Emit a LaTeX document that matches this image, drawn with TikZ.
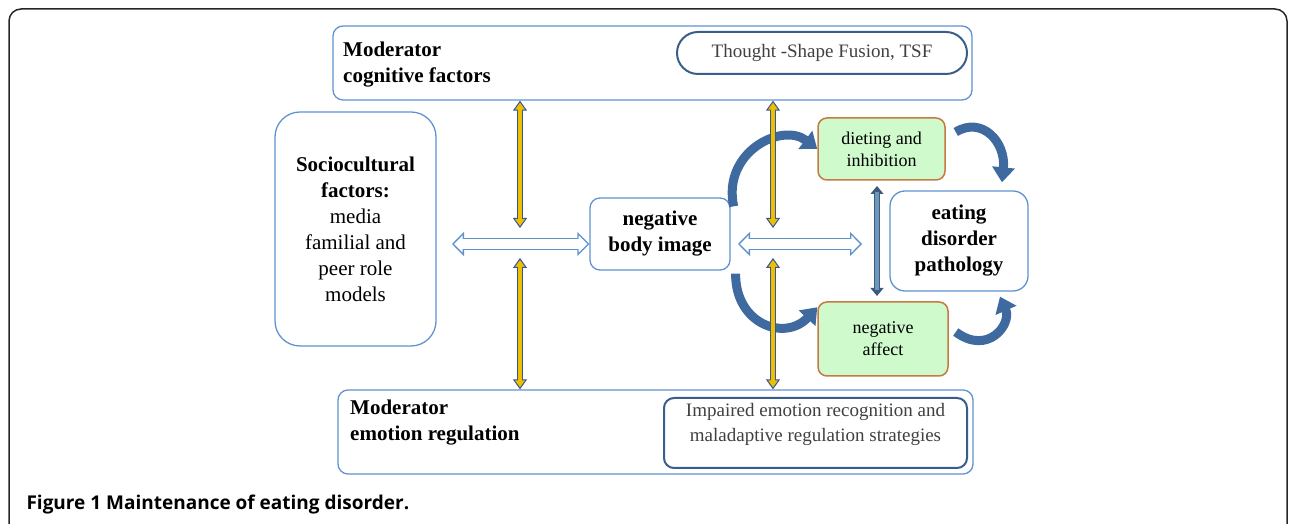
\documentclass[tikz,border=0pt]{standalone}
\usepackage{fontspec}
\setmainfont{Liberation Serif}
\newfontfamily\capfont{Open Sans}
\usetikzlibrary{arrows.meta}
\definecolor{boxblue}{RGB}{96,146,208}
\definecolor{inblue}{RGB}{58,94,140}
\definecolor{paleg}{RGB}{206,250,204}
\definecolor{orangeb}{RGB}{196,122,66}
\definecolor{gold}{RGB}{240,190,0}
\definecolor{arrowblue}{RGB}{50,88,150}
\definecolor{curveblue}{RGB}{62,106,160}
\definecolor{steel}{RGB}{110,152,184}
\definecolor{steeldark}{RGB}{58,90,126}
\definecolor{txtgray}{RGB}{64,64,64}
\tikzset{
  ytip/.tip={Triangle[length=10pt,width=14pt,line width=1pt,fill=gold]},
  htip/.tip={Triangle[length=12pt,width=24pt,line width=1.3pt,fill=white]},
  stip/.tip={Triangle[length=8pt,width=13pt,line width=1pt,fill=steeldark]},
  ctip/.tip={Triangle[length=15pt,width=22pt]}
}
\begin{document}
\begin{tikzpicture}[x=1pt,y=1pt,
  box/.style={draw=boxblue, line width=1.3pt, rounded corners=10pt, inner sep=0pt, align=center},
  inbox/.style={draw=inblue, line width=2pt, inner sep=0pt, align=center, text=txtgray},
  greenbox/.style={draw=orangeb, fill=paleg, line width=1.5pt, rounded corners=9pt, inner sep=0pt, align=center},
  big/.style={font=\fontsize{21}{26}\selectfont},
  small/.style={font=\fontsize{18}{22}\selectfont},
  ylw/.style={draw=arrowblue, line width=6pt, arrows={ytip-ytip},
    postaction={draw=gold, line width=3.2pt, arrows=-, shorten <=8pt, shorten >=8pt}},
  hollow/.style={draw=boxblue, line width=12pt, arrows={htip-htip},
    postaction={draw=white, line width=9.4pt, arrows=-, shorten <=10pt, shorten >=10pt}},
  stl/.style={draw=steeldark, line width=6pt, arrows={stip-stip},
    postaction={draw=steel, line width=3.8pt, arrows=-, shorten <=6pt, shorten >=6pt}},
  curve/.style={draw=curveblue, line width=9pt, arrows={-ctip}}
]
\useasboundingbox (0,0) rectangle (1290,524);
\draw[line width=1.5pt, draw=black!85, rounded corners=12pt] (9,-20) rectangle (1287,515);

\node[box, minimum width=639, minimum height=74] (cog) at (652.5,461) {};
\node[anchor=west, align=left, inner sep=0pt, big] (cogtxt) at (343,459) {\textbf{Moderator}\\\textbf{cognitive factors}};
\node[inbox, rounded corners=21pt, minimum width=290, minimum height=42, font=\fontsize{19}{23}\selectfont] (tsf) at (822,471) {Thought -Shape Fusion, TSF};

\node[box, rounded corners=25pt, minimum width=161, minimum height=234, big] (soc) at (355.5,295)
  {\textbf{Sociocultural}\\\textbf{factors:}\\media\\familial and\\peer role\\models};
\node[box, minimum width=140, minimum height=72, big] (body) at (660,290) {\textbf{negative}\\\textbf{body image}};
\node[greenbox, minimum width=127, minimum height=62, small] (diet) at (881.5,375) {dieting and\\inhibition};
\node[greenbox, minimum width=130, minimum height=74, small] (aff) at (883,185) {negative\\affect};
\node[box, rounded corners=15pt, minimum width=138, minimum height=100, big] (edp) at (959,283)
  {\textbf{eating}\\\textbf{disorder}\\\textbf{pathology}};

\node[box, minimum width=635, minimum height=84] (emo) at (655.5,92) {};
\node[anchor=west, align=left, inner sep=0pt, big] (emotxt) at (350,101) {\textbf{Moderator}\\\textbf{emotion regulation}};
\node[inbox, rounded corners=10pt, minimum width=303, minimum height=70] (imp) at (815.5,91) {};
\node[text=txtgray, align=center, font=\fontsize{19}{25}\selectfont] (imptxt) at (815.5,100)
  {Impaired emotion recognition and\\maladaptive regulation strategies};

\node[anchor=west, font=\capfont\bfseries\fontsize{19}{23}\selectfont] (cap) at (23,19) {Figure 1 Maintenance of eating disorder.};

\coordinate (ylt) at (520,296);
\coordinate (ylb) at (520,266);
\coordinate (yrt) at (773,296);
\coordinate (yrb) at (773,266);
\coordinate (hl) at (452,280);
\coordinate (hr1) at (738,280);
\coordinate (hr2) at (862,280);
\coordinate (sv1) at (877,338);
\coordinate (sv2) at (877,228);

\draw[curve] ([xshift=3pt,yshift=-9pt]body.north east) .. controls (722,372) and (782,402) .. (diet.west);
\draw[curve] ([xshift=5pt,yshift=-3pt]body.south east) .. controls (735,200) and (785,182) .. ([yshift=-6pt]aff.north west);
\draw[curve] ([xshift=10pt,yshift=17pt]diet.east) .. controls (982,408) and (1006,382) .. ([xshift=43pt,yshift=8pt]edp.north);
\draw[curve] ([xshift=7pt,yshift=7pt]aff.east) .. controls (988,168) and (1012,200) .. ([xshift=41pt,yshift=-5pt]edp.south);

\draw[ylw] (cog.south -| ylt) -- (ylt);
\draw[ylw] (ylb) -- (emo.north -| ylb);
\draw[ylw] (cog.south -| yrt) -- (yrt);
\draw[ylw] (yrb) -- (emo.north -| yrb);

\draw[hollow] (hl) -- (hl -| body.west);
\draw[hollow] (hr1) -- (hr2);
\draw[stl] (sv1) -- (sv2);
\end{tikzpicture}
\end{document}
